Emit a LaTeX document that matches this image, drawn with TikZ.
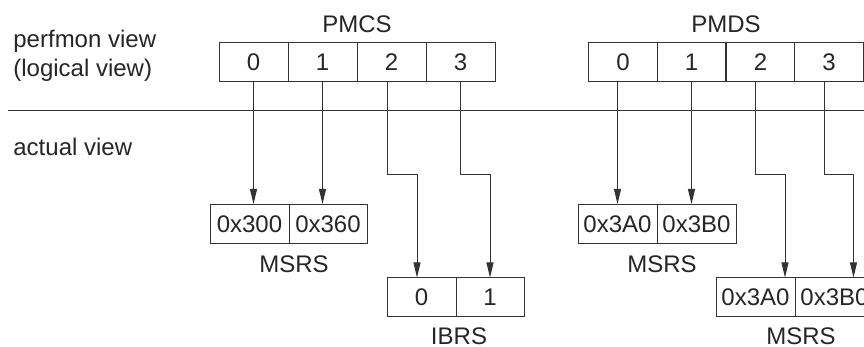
\documentclass[tikz,border=0pt]{standalone}
\usepackage{fontspec}
\setmainfont{Liberation Sans}
\usetikzlibrary{arrows.meta}
\begin{document}
\begin{tikzpicture}[x=0.5pt,y=-0.5pt,
  font=\fontsize{12}{14}\selectfont,
  cell/.style={draw=black!80, line width=0.5pt, minimum height=19.5pt, inner sep=0pt, text=black!85},
  lbl/.style={inner sep=0pt, text=black!85},
  arr/.style={draw=black!80, line width=0.5pt, -{Triangle[length=7.5pt,width=3.5pt]}},
  sep/.style={draw=black!80, line width=0.5pt}]
\clip (0,0) rectangle (864,347);
% left texts
\node[lbl, anchor=base west] (t1) at (13,48) {perfmon view};
\node[lbl, anchor=base west] (t2) at (13,77) {(logical view)};
\node[lbl, anchor=base west] (t3) at (13,156) {actual view};
\coordinate (sl) at (8,111);
\coordinate (sr) at (864,111);
\draw[sep] (sl) -- (sr);
% PMCS
\node[lbl, anchor=base] (pmcs) at (357,33) {PMCS};
\node[cell, minimum width=34.5pt] (c0) at (253.5,62.5) {0};
\node[cell, minimum width=34.5pt] (c1) at (322.5,62.5) {1};
\node[cell, minimum width=34.5pt] (c2) at (391.5,62.5) {2};
\node[cell, minimum width=34.5pt] (c3) at (460.5,62.5) {3};
% PMDS
\node[lbl, anchor=base] (pmds) at (726,33) {PMDS};
\node[cell, minimum width=34.25pt] (d0) at (623,62.5) {0};
\node[cell, minimum width=34.25pt] (d1) at (691.5,62.5) {1};
\node[cell, minimum width=34.25pt] (d2) at (760.5,62.5) {2};
\node[cell, minimum width=34.25pt] (d3) at (829,62.5) {3};
% MSRS 1
\node[cell, minimum width=39.5pt] (m0) at (249.5,224) {0x300};
\node[cell, minimum width=39pt] (m1) at (328,224) {0x360};
\node[lbl, anchor=base] (ml) at (294,273) {MSRS};
% IBRS
\node[cell, minimum width=34.5pt] (i0) at (421.5,297.5) {0};
\node[cell, minimum width=34pt] (i1) at (490,297.5) {1};
\node[lbl, anchor=base] (il) at (459,345) {IBRS};
% MSRS 2
\node[cell, minimum width=39.5pt] (n0) at (617.5,224) {0x3A0};
\node[cell, minimum width=39.5pt] (n1) at (696.5,224) {0x3B0};
\node[lbl, anchor=base] (nl) at (662,273) {MSRS};
% MSRS 3
\node[cell, minimum width=39.5pt] (p0) at (755.5,297.5) {0x3A0};
\node[cell, minimum width=39.5pt] (p1) at (834.5,297.5) {0x3B0};
\node[lbl, anchor=base] (pl) at (801,345) {MSRS};
% connectors
\coordinate (jog) at (0,175);
\draw[arr] (c0.south) -- (c0.south |- m0.north);
\draw[arr] (c1.south) -- (c1.south |- m1.north);
\draw[arr] ([xshift=-2.25pt]c2.south) -- ([xshift=-2.25pt]c2.south |- jog) -| ([xshift=-2.25pt]i0.north);
\draw[arr] (c3.south) -- (c3.south |- jog) -| (i1.north);
\draw[arr] (d0.south -| n0.north) -- (n0.north);
\draw[arr] (d1.south) -- (d1.south |- n1.north);
\draw[arr] ([xshift=-2.75pt]d2.south) -- ([xshift=-2.75pt]d2.south |- jog) -| ([xshift=14.75pt]p0.north);
\draw[arr] ([xshift=-2.5pt]d3.south) -- ([xshift=-2.5pt]d3.south |- jog) -| ([xshift=9.5pt]p1.north);
\end{tikzpicture}
\end{document}
